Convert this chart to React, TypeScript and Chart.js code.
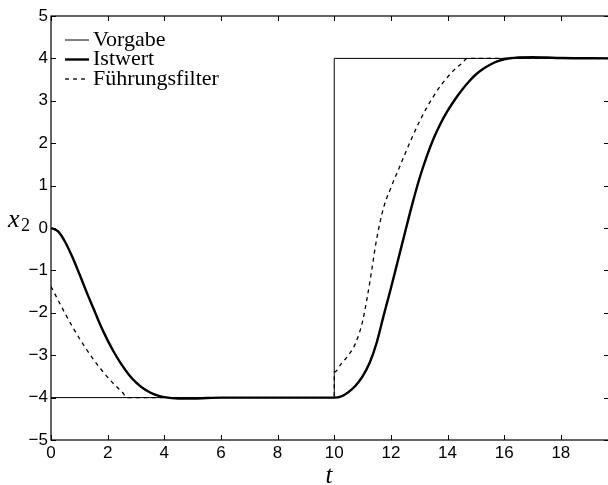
import React, { useEffect, useRef } from 'react';
import { Chart, registerables } from 'chart.js';

Chart.register(...registerables);

// ---- data ----
const vorgabeTime = [0, 10, 10, 19.7];
const vorgabeValues = [-4, -4, 4, 4];

const istTime = [0, 0.25, 0.5, 0.75, 1, 1.25, 1.5, 1.75, 2, 2.25, 2.5, 2.75, 3, 3.25, 3.5, 3.75, 4, 4.5, 5, 5.5, 6, 8, 10, 10.25, 10.5, 10.75, 11, 11.25, 11.5, 11.75, 12, 12.25, 12.5, 12.75, 13, 13.25, 13.5, 13.75, 14, 14.25, 14.5, 14.75, 15, 15.25, 15.5, 15.75, 16, 16.5, 17, 17.5, 18, 19.7];
const istValues = [0, -0.08, -0.33, -0.68, -1.08, -1.5, -1.9, -2.3, -2.65, -2.96, -3.23, -3.46, -3.64, -3.78, -3.88, -3.95, -3.99, -4.02, -4.02, -4.01, -4.0, -4.0, -4.0, -3.97, -3.87, -3.72, -3.5, -3.18, -2.7, -2.05, -1.42, -0.76, -0.1, 0.55, 1.15, 1.66, 2.1, 2.46, 2.76, 3.02, 3.25, 3.45, 3.62, 3.75, 3.85, 3.93, 3.98, 4.02, 4.03, 4.02, 4.01, 4.0];

const filterTime = [0, 0.25, 0.5, 0.75, 1, 1.25, 1.5, 1.75, 2, 2.25, 2.5, 2.7, 5, 10, 10, 10.25, 10.5, 10.75, 11, 11.25, 11.5, 11.75, 12, 12.25, 12.5, 12.75, 13, 13.25, 13.5, 13.75, 14, 14.25, 14.5, 14.7, 16, 19.7];
const filterValues = [-1.38, -1.7, -2.02, -2.32, -2.6, -2.86, -3.1, -3.32, -3.52, -3.7, -3.86, -4.0, -4, -4, -3.4, -3.2, -3.0, -2.72, -2.2, -1.3, -0.25, 0.5, 0.95, 1.35, 1.75, 2.14, 2.5, 2.82, 3.1, 3.35, 3.56, 3.74, 3.88, 4.0, 4.0, 4.0];

const seriesLabels = ['Vorgabe', 'Istwert', 'Führungsfilter'];
const xTickValues = [0, 2, 4, 6, 8, 10, 12, 14, 16, 18];
const yTickValues = [-5, -4, -3, -2, -1, 0, 1, 2, 3, 4, 5];
const xMin = 0;
const xMax = 19.7;
const yMin = -5;
const yMax = 5;

const CANVAS_W = 614;
const CANVAS_H = 485;

const fmt = (v: number) => (v < 0 ? '\u2212' + Math.abs(v) : String(v));
const toPts = (t: number[], v: number[]) => t.map((x, i) => ({ x, y: v[i] }));

const styles = [
  { width: 1, dash: [] as number[] },
  { width: 2.4, dash: [] as number[] },
  { width: 1.3, dash: [4, 4] },
];

export default function App() {
  const ref = useRef<HTMLCanvasElement>(null);

  useEffect(() => {
    const canvas = ref.current!;
    const decor = {
      id: 'decor',
      afterDatasetsDraw(chart: any) {
        const ctx = chart.ctx as CanvasRenderingContext2D;
        const { left, right, top, bottom } = chart.chartArea;
        const xs = chart.scales.x;
        const ys = chart.scales.y;
        ctx.save();
        ctx.strokeStyle = '#000';
        ctx.lineWidth = 1.2;
        ctx.setLineDash([]);
        ctx.strokeRect(left, top, right - left, bottom - top);
        const tl = 5;
        ctx.beginPath();
        xTickValues.forEach((v) => {
          const px = Math.round(xs.getPixelForValue(v)) + 0.5;
          ctx.moveTo(px, bottom); ctx.lineTo(px, bottom - tl);
          ctx.moveTo(px, top); ctx.lineTo(px, top + tl);
        });
        yTickValues.forEach((v) => {
          const py = Math.round(ys.getPixelForValue(v)) + 0.5;
          ctx.moveTo(left, py); ctx.lineTo(left + tl, py);
          ctx.moveTo(right, py); ctx.lineTo(right - tl, py);
        });
        ctx.lineWidth = 1;
        ctx.stroke();

        // legend
        const baselines = [45.5, 65, 84.5];
        ctx.fillStyle = '#000';
        ctx.font = '22px "Liberation Serif", "Times New Roman", serif';
        ctx.textAlign = 'left';
        ctx.textBaseline = 'alphabetic';
        seriesLabels.forEach((lab, i) => {
          const b = baselines[i];
          const ly = b - 5.5;
          ctx.beginPath();
          ctx.lineWidth = styles[i].width;
          ctx.setLineDash(styles[i].dash);
          ctx.moveTo(65, ly);
          ctx.lineTo(89, ly);
          ctx.stroke();
          ctx.setLineDash([]);
          ctx.fillText(lab, 93, b);
        });

        // axis titles
        ctx.font = 'italic 25px "Liberation Serif", "Times New Roman", serif';
        ctx.textAlign = 'center';
        ctx.fillText('t', 329, 483);
        ctx.textAlign = 'left';
        ctx.font = 'italic 26px "Liberation Serif", "Times New Roman", serif';
        ctx.fillText('x', 8, 227);
        ctx.font = '18px "Liberation Serif", "Times New Roman", serif';
        ctx.fillText('2', 21, 231);
        ctx.restore();
      },
    };

    const tickFont = { family: '"Liberation Sans", Arial, sans-serif', size: 17 };
    const chart = new Chart(canvas, {
      type: 'line',
      data: {
        datasets: [
          {
            label: seriesLabels[1],
            data: toPts(istTime, istValues),
            borderColor: '#000',
            borderWidth: styles[1].width,
            pointRadius: 0,
            fill: false,
            cubicInterpolationMode: 'monotone',
          },
          {
            label: seriesLabels[2],
            data: toPts(filterTime, filterValues),
            borderColor: '#000',
            borderWidth: styles[2].width,
            borderDash: styles[2].dash,
            pointRadius: 0,
            fill: false,
            cubicInterpolationMode: 'monotone',
          },
          {
            label: seriesLabels[0],
            data: toPts(vorgabeTime, vorgabeValues),
            borderColor: '#000',
            borderWidth: styles[0].width,
            pointRadius: 0,
            fill: false,
            tension: 0,
          },
        ],
      },
      options: {
        animation: false,
        responsive: false,
        devicePixelRatio: 1,
        layout: { padding: { top: 16, right: 5, left: 0, bottom: 0 } },
        plugins: { legend: { display: false }, tooltip: { enabled: false } },
        scales: {
          x: {
            type: 'linear',
            min: xMin,
            max: xMax,
            afterFit: (s: any) => { s.height = 45; },
            grid: { display: false, drawTicks: false },
            border: { display: false },
            ticks: {
              stepSize: 2,
              includeBounds: false,
              autoSkip: false,
              maxRotation: 0,
              padding: 3,
              color: '#000',
              font: tickFont,
              callback: (v: any) => fmt(Number(v)),
            },
          },
          y: {
            type: 'linear',
            min: yMin,
            max: yMax,
            afterFit: (s: any) => { s.width = 51; },
            grid: { display: false, drawTicks: false },
            border: { display: false },
            ticks: {
              stepSize: 1,
              autoSkip: false,
              padding: 3,
              color: '#000',
              font: tickFont,
              callback: (v: any) => fmt(Number(v)),
            },
          },
        },
      },
      plugins: [decor],
    } as any);
    return () => chart.destroy();
  }, []);

  return (
    <div style={{ position: 'fixed', left: 0, top: 0, width: CANVAS_W, height: CANVAS_H, background: '#fff' }}>
      <canvas ref={ref} width={CANVAS_W} height={CANVAS_H} style={{ display: 'block' }} />
    </div>
  );
}
